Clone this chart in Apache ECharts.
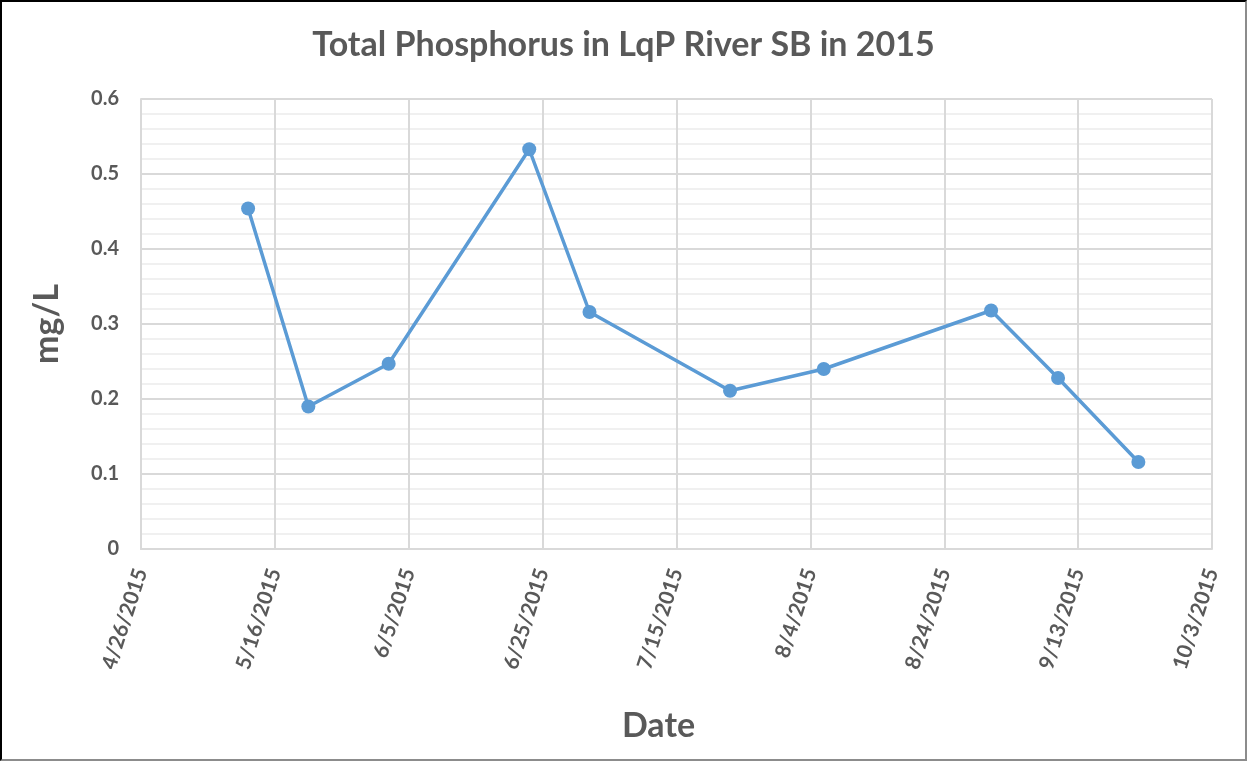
<!DOCTYPE html>
<html>
<head>
<meta charset="utf-8">
<title>Total Phosphorus in LqP River SB in 2015</title>
<script src="https://cdn.jsdelivr.net/npm/echarts@6/dist/echarts.min.js"></script>
<style>
  html, body { margin: 0; padding: 0; background: #fff; }
  .wrap { position: relative; width: 1247px; height: 761px; }
  .chart { width: 1247px; height: 761px; }
  .frame {
    position: absolute; left: 0; top: 0; right: 0; bottom: 0;
    border-top: 2px solid #000; border-left: 2px solid #000;
    border-right: 2px solid #8c8c8c; border-bottom: 2px solid #8c8c8c;
    box-sizing: border-box; pointer-events: none;
  }
</style>
</head>
<body>
<div class="wrap">
  <div class="chart"></div>
  <div class="frame"></div>
</div>
<script>
// sample dates and total phosphorus (mg/L)
var dates = ['2015-05-12', '2015-05-21', '2015-06-02', '2015-06-23', '2015-07-02',
             '2015-07-23', '2015-08-06', '2015-08-31', '2015-09-10', '2015-09-22'];
var values = [0.454, 0.190, 0.247, 0.533, 0.316, 0.211, 0.240, 0.318, 0.228, 0.116];

// x axis runs 4/26/2015 .. 10/3/2015, ticks every 20 days
var startDate = '2015-04-26';
var endDate = '2015-10-03';
var tickDays = 20;

var DAY = 86400000;
function dayOf(s) {
  return Math.round((Date.parse(s + 'T00:00:00Z') - Date.parse(startDate + 'T00:00:00Z')) / DAY);
}
function labelOf(d) {
  var t = new Date(Date.parse(startDate + 'T00:00:00Z') + d * DAY);
  return (t.getUTCMonth() + 1) + '/' + t.getUTCDate() + '/' + t.getUTCFullYear();
}

(function () {
  var myChart = echarts.init(document.querySelector('.chart'));
  var textColor = '#595959';
  var font = 'Lato';

  var option = {
    animation: false,
    title: {
      text: 'Total Phosphorus in LqP River SB in 2015',
      left: 'center',
      top: 23,
      textStyle: { color: textColor, fontFamily: font, fontWeight: 'bold', fontSize: 34 }
    },
    grid: { left: 141, top: 99, right: 35, bottom: 212 },
    xAxis: {
      type: 'value',
      min: 0,
      max: dayOf(endDate),
      interval: tickDays,
      name: 'Date',
      nameLocation: 'middle',
      nameGap: 160,
      nameTextStyle: {
        color: textColor, fontFamily: font, fontWeight: 'bold', fontSize: 34,
        padding: [0, 36, 0, 0]
      },
      axisLine: { show: true, lineStyle: { color: '#d9d9d9', width: 2 } },
      axisTick: { show: false },
      splitLine: { show: true, lineStyle: { color: '#d9d9d9', width: 2 } },
      axisLabel: {
        rotate: 72,
        margin: 20,
        color: textColor,
        fontFamily: font,
        fontWeight: 'bold',
        fontSize: 21,
        formatter: function (v) { return labelOf(v); }
      }
    },
    yAxis: {
      type: 'value',
      min: 0,
      max: 0.6,
      interval: 0.1,
      name: 'mg/L',
      nameLocation: 'middle',
      nameGap: 77,
      nameTextStyle: { color: textColor, fontFamily: font, fontWeight: 'bold', fontSize: 34 },
      axisLine: { show: true, lineStyle: { color: '#d9d9d9', width: 2 } },
      axisTick: { show: false },
      minorTick: { show: false, splitNumber: 5 },
      minorSplitLine: { show: true, lineStyle: { color: '#f0f0f0', width: 2 } },
      splitLine: { show: true, lineStyle: { color: '#d9d9d9', width: 2 } },
      axisLabel: {
        margin: 22,
        color: textColor,
        fontFamily: font,
        fontWeight: 'bold',
        fontSize: 20,
        formatter: function (v) { return String(Math.round(v * 10) / 10); }
      }
    },
    series: [
      {
        name: 'Total Phosphorus',
        type: 'line',
        data: dates.map(function (d, i) { return [dayOf(d), values[i]]; }),
        symbol: 'circle',
        symbolSize: 14,
        itemStyle: { color: '#5b9bd5' },
        lineStyle: { color: '#5b9bd5', width: 3.5 }
      }
    ]
  };
  myChart.setOption(option);
})();
</script>
</body>
</html>
